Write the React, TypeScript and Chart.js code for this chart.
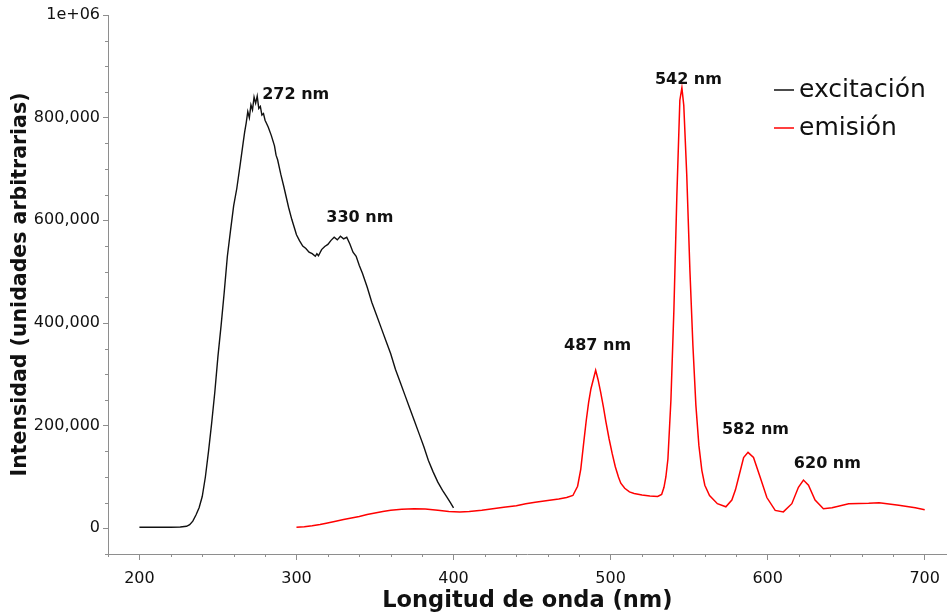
import React, { useEffect, useRef } from 'react';
import { Chart, registerables } from 'chart.js';

Chart.register(...registerables);

// ---- data ----
const excitationWavelengths = [
  200, 210, 220, 226, 230, 232, 234, 236, 238, 240, 242, 244, 246, 248, 250, 252, 254, 256, 258, 260,
  262, 264, 266, 267, 268, 269, 270, 271, 272, 273, 274, 275, 276, 277, 278, 279, 280, 282, 284, 286,
  287, 288, 290, 292, 293.5, 295, 297, 299, 300, 302, 304, 306, 308, 310, 312, 313, 314, 316, 318, 320,
  322, 324, 326, 328, 330, 332, 334, 336, 338, 340, 342, 345, 348, 351, 354, 357, 360, 363, 366, 369,
  372, 375, 378, 381, 384, 387, 390, 393, 396, 398, 400,
];
const excitationIntensity = [
  2000, 2000, 2000, 2500, 4000, 7000, 14000, 26000, 40000, 62000, 100000, 150000, 205000, 265000, 335000, 395000, 460000, 530000, 580000, 628000,
  662000, 705000, 750000, 772000, 790000, 812000, 800000, 825000, 815000, 840000, 828000, 842000, 818000, 822000, 805000, 808000, 795000, 782000, 765000, 745000,
  727000, 718000, 690000, 665000, 645000, 625000, 602000, 582000, 572000, 560000, 550000, 545000, 538000, 535000, 530000, 535000, 531000, 543000, 549000, 553000,
  561000, 567000, 562000, 569000, 564000, 567000, 554000, 538000, 530000, 512000, 497000, 470000, 440000, 415000, 390000, 365000, 340000, 310000, 285000, 260000,
  235000, 210000, 185000, 160000, 132000, 110000, 90000, 74000, 60000, 50000, 40000,
];

const emissionWavelengths = [
  300, 305, 310, 315, 319, 325, 330, 335, 340, 345, 350, 355, 360, 367, 375, 382, 390, 397, 404, 410,
  418, 425, 432, 440, 446, 452, 460, 467, 472, 476, 479, 481, 483, 484.5, 486, 487.5, 489, 490.5, 492, 493.7,
  495.5, 497, 499, 501, 503, 505, 506.5, 509, 512, 515, 520, 525, 530, 532.5, 534, 535.2, 536.5, 538.4, 540.3, 542.2,
  544.1, 545.4, 546.6, 548.5, 550.5, 552.4, 554.3, 556.2, 558.1, 560, 563, 568, 573.4, 577.2, 579.5, 581.5, 584.7, 587.5, 591, 595.3,
  599.5, 604.8, 610, 615.4, 619.6, 622.8, 626, 630.2, 635.5, 641, 651.6, 664.3, 671, 683.5, 694, 700,
];
const emissionIntensity = [
  2000, 3000, 5000, 7500, 10000, 14000, 17000, 20000, 23000, 27000, 30000, 33000, 35000, 37000, 38000, 37500, 35000, 33000, 32000, 33000,
  35000, 38000, 41000, 44000, 48000, 51000, 54000, 57000, 60000, 64000, 82000, 115000, 170000, 210000, 245000, 272000, 290000, 308000, 290000, 265000,
  235000, 208000, 175000, 146000, 120000, 100000, 88000, 78000, 71000, 68000, 65000, 63000, 62000, 66000, 80000, 100000, 135000, 249000, 425000, 649000,
  834000, 858000, 824000, 688000, 503000, 357000, 240000, 162000, 113000, 84000, 64000, 48000, 42000, 55000, 75000, 99000, 138000, 148000, 138000, 99000,
  60000, 35000, 32000, 48000, 80000, 94000, 84000, 55000, 38000, 40000, 48000, 49000, 50000, 45000, 40000, 36000,
];

const seriesNames = ['excitación', 'emisión'];
const xTickValues = [200, 300, 400, 500, 600, 700];
const yTickValues = [0, 200000, 400000, 600000, 800000, 1000000];
const xMinorStep = 20;
const yMinorStep = 50000;

const peakLabels = ['272 nm', '330 nm', '487 nm', '542 nm', '582 nm', '620 nm'];
const peakLabelX = [278.2, 319, 470.4, 528.2, 570.9, 616.7];
const peakLabelY = [844000, 604000, 355000, 873000, 191000, 125000];

const FONT = '"DejaVu Sans", Verdana, sans-serif';
const AXIS_COLOR = '#8e8e8e';
const TEXT_COLOR = '#111111';
const SERIES_COLORS = ['#111111', '#ff0000'];

const decorPlugin = {
  id: 'decor',
  afterDraw(chart: any) {
    const ctx = chart.ctx as CanvasRenderingContext2D;
    const xs = chart.scales.x;
    const ys = chart.scales.y;
    const area = chart.chartArea;
    ctx.save();
    // minor ticks
    ctx.strokeStyle = AXIS_COLOR;
    ctx.lineWidth = 1;
    for (let v = Math.ceil(xs.min / xMinorStep) * xMinorStep; v <= xs.max; v += xMinorStep) {
      if (v % 100 === 0) continue;
      const px = Math.round(xs.getPixelForValue(v)) + 0.5;
      ctx.beginPath();
      ctx.moveTo(px, area.bottom);
      ctx.lineTo(px, area.bottom + 3);
      ctx.stroke();
    }
    for (let v = Math.ceil(ys.min / yMinorStep) * yMinorStep; v <= ys.max; v += yMinorStep) {
      if (v % 200000 === 0) continue;
      const py = Math.round(ys.getPixelForValue(v)) + 0.5;
      ctx.beginPath();
      ctx.moveTo(area.left, py);
      ctx.lineTo(area.left - 3, py);
      ctx.stroke();
    }
    // peak labels
    ctx.font = `bold 16px ${FONT}`;
    ctx.fillStyle = TEXT_COLOR;
    ctx.textAlign = 'left';
    ctx.textBaseline = 'middle';
    peakLabels.forEach((t, i) => {
      ctx.fillText(t, xs.getPixelForValue(peakLabelX[i]), ys.getPixelForValue(peakLabelY[i]));
    });
    // legend
    ctx.font = `25px ${FONT}`;
    chart.data.datasets.forEach((ds: any, i: number) => {
      const y = area.top + 75 + i * 38;
      const x0 = area.left + 666;
      ctx.strokeStyle = ds.borderColor;
      ctx.lineWidth = 1.5;
      ctx.beginPath();
      ctx.moveTo(x0, y);
      ctx.lineTo(x0 + 20, y);
      ctx.stroke();
      ctx.fillStyle = TEXT_COLOR;
      ctx.fillText(ds.label, x0 + 25, y);
    });
    ctx.restore();
  },
};

export default function App() {
  const canvasRef = useRef<HTMLCanvasElement | null>(null);

  useEffect(() => {
    if (!canvasRef.current) return;
    const toPoints = (xs: number[], ys: number[]) => xs.map((x, i) => ({ x, y: ys[i] }));
    const chart = new Chart(canvasRef.current, {
      type: 'line',
      data: {
        datasets: [
          {
            label: seriesNames[0],
            data: toPoints(excitationWavelengths, excitationIntensity),
            borderColor: SERIES_COLORS[0],
            borderWidth: 1.4,
            pointRadius: 0,
            tension: 0,
            fill: false,
          },
          {
            label: seriesNames[1],
            data: toPoints(emissionWavelengths, emissionIntensity),
            borderColor: SERIES_COLORS[1],
            borderWidth: 1.5,
            pointRadius: 0,
            tension: 0,
            fill: false,
          },
        ],
      },
      options: {
        animation: false,
        responsive: false,
        maintainAspectRatio: false,
        layout: { padding: { left: 0, right: 1, top: 15, bottom: 0 } },
        plugins: {
          legend: { display: false },
          tooltip: { enabled: false },
        },
        scales: {
          x: {
            type: 'linear',
            min: 180,
            max: 714,
            afterBuildTicks: (s: any) => {
              s.ticks = xTickValues.map((v) => ({ value: v }));
            },
            afterFit: (s: any) => {
              s.height = 61;
            },
            grid: {
              display: true,
              drawOnChartArea: false,
              drawTicks: true,
              tickLength: 6,
              color: AXIS_COLOR,
              tickColor: AXIS_COLOR,
            },
            border: { display: true, color: AXIS_COLOR, width: 1 },
            ticks: {
              font: { family: FONT, size: 16 },
              color: TEXT_COLOR,
              padding: 9,
              maxRotation: 0,
              autoSkip: false,
              callback: (v: any) => String(v),
            },
            title: {
              display: true,
              text: 'Longitud de onda (nm)',
              font: { family: FONT, size: 22.5, weight: 'bold' },
              color: TEXT_COLOR,
              padding: { top: 0, bottom: 0 },
            },
          },
          y: {
            type: 'linear',
            min: -50000,
            max: 1000000,
            afterBuildTicks: (s: any) => {
              s.ticks = yTickValues.map((v) => ({ value: v }));
            },
            afterFit: (s: any) => {
              s.width = 108;
            },
            grid: {
              display: true,
              drawOnChartArea: false,
              drawTicks: true,
              tickLength: 5,
              color: AXIS_COLOR,
              tickColor: AXIS_COLOR,
            },
            border: { display: true, color: AXIS_COLOR, width: 1 },
            ticks: {
              font: { family: FONT, size: 16 },
              color: TEXT_COLOR,
              padding: 3,
              autoSkip: false,
              callback: (v: any) => (v === 1000000 ? '1e+06' : Number(v).toLocaleString('en-US')),
            },
            title: {
              display: true,
              text: 'Intensidad (unidades arbitrarias)',
              font: { family: FONT, size: 20.5, weight: 'bold' },
              color: TEXT_COLOR,
              padding: { top: 8, bottom: 2 },
            },
          },
        },
      },
      plugins: [decorPlugin],
    });
    return () => chart.destroy();
  }, []);

  return (
    <div style={{ position: 'absolute', left: 0, top: 0, width: 949, height: 615, background: '#ffffff' }}>
      <canvas ref={canvasRef} width={949} height={615} style={{ display: 'block', width: 949, height: 615 }} />
    </div>
  );
}
